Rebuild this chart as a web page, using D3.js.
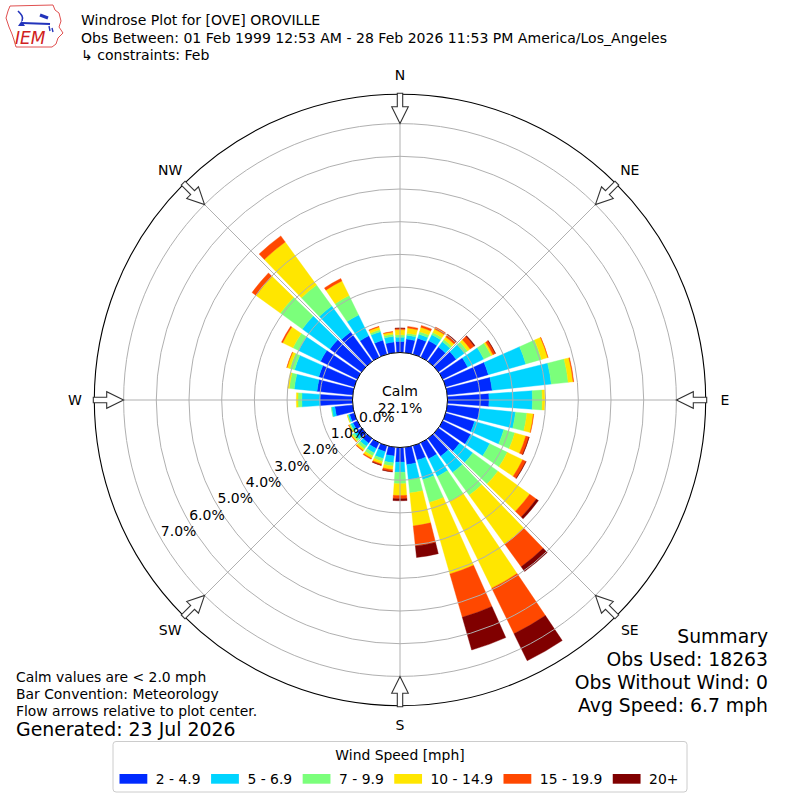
<!DOCTYPE html>
<html><head><meta charset="utf-8">
<script src="https://cdn.jsdelivr.net/npm/d3@7"></script>
<style>
body{margin:0;background:#fff}
text{font-family:"DejaVu Sans","Noto Sans",sans-serif;fill:#000}
</style>
</head><body>
<svg id="chart" width="800" height="800"></svg>
<script>
// ---------------- data ----------------
const directions = [0,10,20,30,40,50,60,70,80,90,100,110,120,130,140,150,160,170,
                    180,190,200,210,220,230,240,250,260,270,280,290,300,310,320,330,340,350];
const speedBins  = ["2 - 4.9","5 - 6.9","7 - 9.9","10 - 14.9","15 - 19.9","20+"];
const binColors  = ["#002aff","#00d4ff","#7bff7b","#ffe600","#ff4800","#800000"];
// percent of observations per direction, one array per speed bin
const pct2to5   = [0.34,0.42,0.51,0.56,0.55,0.67,0.85,1.36,1.38,1.27,1.00,0.92,0.95,0.80,0.67,0.55,0.46,0.53,
                   0.45,0.27,0.19,0.20,0.18,0.18,0.15,0.15,0.55,1.00,1.10,1.13,1.25,1.20,1.12,0.73,0.45,0.33];
const pct5to7   = [0.13,0.12,0.13,0.21,0.20,0.31,0.55,1.19,1.82,1.33,1.10,0.93,0.65,0.50,0.62,0.60,0.62,0.47,
                   0.31,0.21,0.22,0.15,0.12,0.10,0.08,0.05,0.10,0.55,0.70,0.77,0.75,1.04,0.98,0.71,0.27,0.17];
const pct7to10  = [0.07,0.06,0.08,0.07,0.08,0.12,0.25,0.50,0.52,0.30,0.35,0.35,0.60,0.95,0.86,0.85,0.73,0.41,
                   0.35,0.10,0.09,0.10,0.10,0.07,0.04,0.02,0.01,0.12,0.15,0.15,0.19,0.83,0.79,0.66,0.06,0.07];
const pct10to15 = [0.16,0.16,0.14,0.12,0.10,0.10,0.06,0.20,0.15,0.08,0.20,0.35,0.52,1.20,1.85,2.95,2.27,1.01,
                   0.36,0.11,0.08,0.08,0.06,0.04,0.02,0.01,0.00,0.05,0.05,0.09,0.35,0.92,1.63,0.50,0.09,0.07];
const pct15to20 = [0.04,0.05,0.06,0.07,0.08,0.15,0.08,0.01,0.02,0.00,0.01,0.10,0.11,0.25,0.85,1.55,1.38,0.62,
                   0.10,0.06,0.04,0.03,0.02,0.01,0.01,0.00,0.00,0.00,0.00,0.01,0.04,0.15,0.23,0.08,0.02,0.01];
const pct20plus = [0.01,0.00,0.00,0.00,0.02,0.03,0.01,0.00,0.00,0.00,0.00,0.01,0.01,0.08,0.18,0.92,1.04,0.35,
                   0.06,0.01,0.01,0.00,0.00,0.00,0.00,0.00,0.00,0.00,0.00,0.00,0.00,0.00,0.00,0.00,0.00,0.00];
const ringTicks     = [0,1,2,3,4,5,6,7];
const compassLabels = ["N","NE","E","SE","S","SW","W","NW"];
const compassAngles = [0,45,90,135,180,225,270,315];
const calmPct = 22.1;
const titleLines = ["Windrose Plot for [OVE] OROVILLE",
  "Obs Between: 01 Feb 1999 12:53 AM - 28 Feb 2026 11:53 PM America/Los_Angeles",
  "\u21b3 constraints: Feb"];
const noteLines = ["Calm values are < 2.0 mph","Bar Convention: Meteorology","Flow arrows relative to plot center."];
const generatedText = "Generated: 23 Jul 2026";
const summaryLines = ["Summary","Obs Used: 18263","Obs Without Wind: 0","Avg Speed: 6.7 mph"];
const legendTitle = "Wind Speed [mph]";

// ---------------- layout ----------------
const svg = d3.select("#chart");
svg.append("rect").attr("width",800).attr("height",800).attr("fill","#fff");
const cx = 400, cy = 400;
const rOrigin = 47.5, rStep = 32.7, rOuter = 305.7;
const r = d3.scaleLinear().domain([0,1]).range([rOrigin, rOrigin + rStep]);
const rad = d => d * Math.PI / 180;
const binWidth = 10 * 0.8;

const keys = speedBins.map((_,i)=>"b"+i);
const series = [pct2to5,pct5to7,pct7to10,pct10to15,pct15to20,pct20plus];
const table = directions.map((d,i)=>{
  const row = {dir:d};
  series.forEach((s,k)=>row["b"+k]=s[i]);
  return row;
});
const stacked = d3.stack().keys(keys)(table);

const g = svg.append("g").attr("transform",`translate(${cx},${cy})`);

// bars
const arc = d3.arc()
  .innerRadius(d=>r(d[0])).outerRadius(d=>r(d[1]))
  .startAngle(d=>rad(d.data.dir - binWidth/2))
  .endAngle(d=>rad(d.data.dir + binWidth/2));
stacked.forEach((layer,k)=>{
  g.append("g").selectAll("path")
    .data(layer.filter(d=>d[1]-d[0]>0))
    .join("path")
    .attr("d",arc)
    .attr("fill",binColors[k])
    .attr("stroke",binColors[k]).attr("stroke-width",0.4);
});

// grid (drawn over bars)
const grid = g.append("g");
grid.selectAll("circle.ring").data(ringTicks.filter(t=>t>0)).join("circle")
  .attr("r",d=>r(d)).attr("fill","none").attr("stroke","#b0b0b0").attr("stroke-width",1);
grid.selectAll("line.spoke").data(compassAngles).join("line")
  .attr("x1",d=>Math.sin(rad(d))*r(0)).attr("y1",d=>-Math.cos(rad(d))*r(0))
  .attr("x2",d=>Math.sin(rad(d))*rOuter).attr("y2",d=>-Math.cos(rad(d))*rOuter)
  .attr("stroke","#b0b0b0").attr("stroke-width",1);

// calm circle
g.append("circle").attr("r",r(0)).attr("fill","#fff").attr("stroke","#000").attr("stroke-width",1);
g.append("text").attr("x",0).attr("y",-4.5).attr("text-anchor","middle").attr("font-size",14).text("Calm");
g.append("text").attr("x",0).attr("y",12.5).attr("text-anchor","middle").attr("font-size",14).text(calmPct.toFixed(1)+"%");

// outer circle
g.append("circle").attr("r",rOuter).attr("fill","none").attr("stroke","#000").attr("stroke-width",1.1);

// ring labels along bearing 240
const lblBearing = 240;
g.selectAll("text.rl").data(ringTicks).join("text")
  .attr("x",d=>Math.sin(rad(lblBearing))*r(d)+18)
  .attr("y",d=>-Math.cos(rad(lblBearing))*r(d)-7)
  .attr("dy","0.35em").attr("text-anchor","middle").attr("font-size",14)
  .text(d=>d.toFixed(1)+"%");

// arrows (hollow, pointing inward)
const tailR = 306.7, headBaseR = 293.3, tipR = r(7);
const hs = 2.7, hh = 8.3;
const arrowPts = [[-hs,-tailR],[hs,-tailR],[hs,-headBaseR],[hh,-headBaseR],[0,-tipR],[-hh,-headBaseR],[-hs,-headBaseR]];
g.selectAll("polygon.arrow").data(compassAngles).join("polygon")
  .attr("points",arrowPts.map(p=>p.join(",")).join(" "))
  .attr("transform",d=>`rotate(${d})`)
  .attr("fill","#fff").attr("stroke","#333").attr("stroke-width",1.1).attr("stroke-linejoin","miter");

// compass labels
const labR = 325;
g.selectAll("text.cl").data(compassAngles).join("text")
  .attr("x",d=>Math.sin(rad(d))*labR).attr("y",d=>-Math.cos(rad(d))*labR)
  .attr("dy","0.36em").attr("text-anchor","middle").attr("font-size",14)
  .text((d,i)=>compassLabels[i]);

// ---------------- titles ----------------
const tY = [24.5,42.5,60];
titleLines.forEach((t,i)=>{
  svg.append("text").attr("x",81).attr("y",tY[i]).attr("font-size",14.05).text(t);
});

// logo
const logo = svg.append("g");
logo.append("path")
  .attr("d","M10,6 L53,5 L55,10 L59,13 L61,21 L59,27 L63,33 L58,38 L56,44 L52,47 L16,47 L14,40 L12,34 L9,27 L6,18 L8,11 Z")
  .attr("fill","#fff").attr("stroke","#e05050").attr("stroke-width",1);
logo.append("text").attr("x",15).attr("y",44).attr("font-family","'Liberation Serif',serif")
  .attr("font-style","italic").attr("font-size",17).style("fill","#d02020").text("IEM");
logo.append("path").attr("d","M18,11 C21,14 24,17 22,21").attr("fill","none").attr("stroke","#2233bb").attr("stroke-width",1.6);
logo.append("path").attr("d","M22,23 L50,24").attr("fill","none").attr("stroke","#2233bb").attr("stroke-width",2.2);
logo.append("path").attr("d","M40,15 L48,18").attr("fill","none").attr("stroke","#2233bb").attr("stroke-width",3);
logo.append("path").attr("d","M18,26 L21.5,21 L25,26 Z").attr("fill","#2233bb");
logo.append("path").attr("d","M49,26 L50,31 M52,28 L53,32").attr("fill","none").attr("stroke","#2233bb").attr("stroke-width",1.4);

// notes
const nY = [682,699,716];
noteLines.forEach((t,i)=>{
  svg.append("text").attr("x",16).attr("y",nY[i]).attr("font-size",13.9).text(t);
});
svg.append("text").attr("x",16).attr("y",735.5).attr("font-size",18.9).text(generatedText);

// summary
const sY = [642.5,665.5,688.5,711.5];
summaryLines.forEach((t,i)=>{
  svg.append("text").attr("x",768).attr("y",sY[i]).attr("text-anchor","end").attr("font-size",18.8).text(t);
});

// ---------------- legend ----------------
const leg = svg.append("g");
leg.append("rect").attr("x",113).attr("y",741.5).attr("width",574).attr("height",50.5).attr("rx",3)
  .attr("fill","#fff").attr("stroke","#cccccc").attr("stroke-width",1);
leg.append("text").attr("x",400).attr("y",759.5).attr("text-anchor","middle").attr("font-size",13.9).text(legendTitle);
let lx = 119.5;
speedBins.forEach((lab,i)=>{
  leg.append("rect").attr("x",lx).attr("y",774).attr("width",27.8).attr("height",9.7).attr("fill",binColors[i]);
  const t = leg.append("text").attr("x",lx+27.8+8.5).attr("y",783.5).attr("font-size",13.9).text(lab);
  const w = t.node().getComputedTextLength();
  lx = lx + 27.8 + 8.5 + w + 10.5;
});
</script>
</body></html>
